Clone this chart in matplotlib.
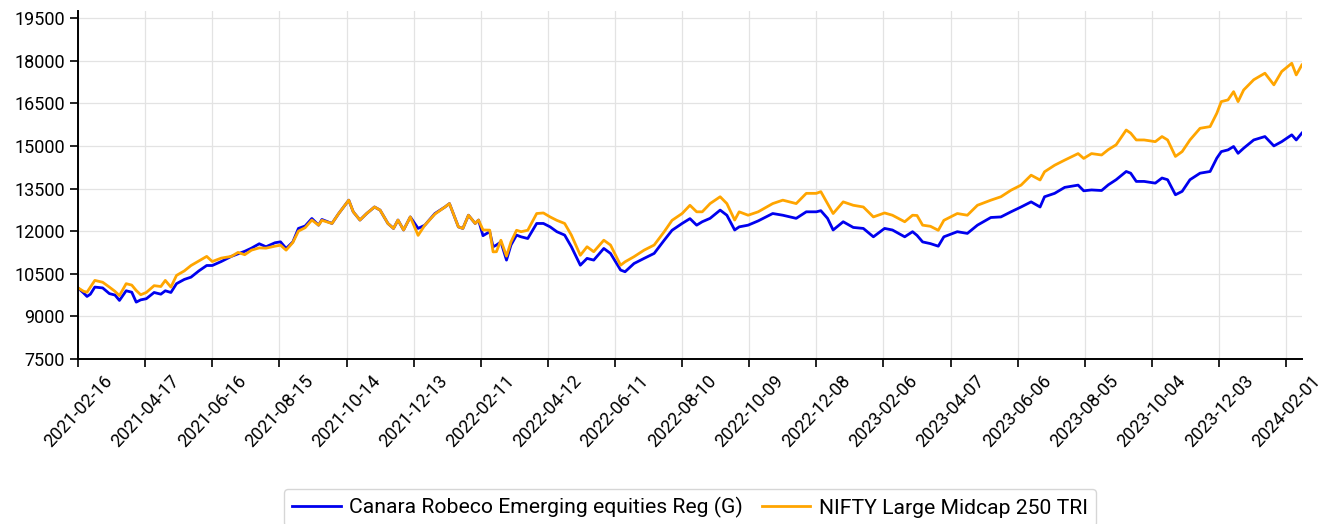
import pandas as pd
import matplotlib
matplotlib.use("Agg")
import matplotlib.pyplot as plt
import matplotlib.dates as mdates

plt.rcParams['font.family'] = ['Roboto', 'DejaVu Sans']

# Données (jours depuis le 2021-02-16)
start_date = "2021-02-16"
day_offsets = [
    0, 5, 8, 11, 15, 22, 28, 33, 37, 43, 48, 52, 56, 61, 68, 74, 78, 83, 88, 95,
    101, 108, 115, 120, 128, 137, 143, 149, 155, 162, 168, 176, 181, 186, 192, 197,
    203, 209, 215, 218, 227, 233, 242, 246, 252, 258, 265, 270, 277, 282, 286, 291,
    297, 304, 310, 319, 328, 332, 340, 344, 349, 355, 358, 362, 368, 371, 374, 378,
    383, 387, 392, 396, 402, 410, 416, 422, 428, 435, 441, 449, 455, 461, 470, 476,
    485, 489, 497, 506, 515, 524, 531, 540, 547, 553, 558, 565, 574, 580, 587, 591,
    599, 608, 621, 630, 642, 651, 660, 664, 670, 675, 684, 693, 702, 711, 721, 728,
    739, 746, 750, 755, 762, 769, 774, 786, 795, 804, 816, 825, 834, 843, 852, 860,
    864, 873, 882, 894, 899, 906, 915, 921, 928, 937, 941, 946, 953, 963, 969, 974,
    981, 987, 994, 1003, 1012, 1018, 1022, 1028, 1033, 1037, 1042, 1051, 1061, 1069,
    1076, 1085, 1089, 1094,
]

fund_values = [
    10000, 9820, 9700, 9780, 10030, 10000, 9800, 9750, 9560, 9900, 9850, 9500, 9580, 9620, 9840, 9780, 9900, 9840, 10150, 10300,
    10380, 10600, 10790, 10790, 10930, 11110, 11200, 11290, 11400, 11555, 11450, 11590, 11623, 11390, 11620, 12095,
    12180, 12445, 12210, 12410, 12270, 12620, 13090, 12680, 12390, 12620, 12850, 12740, 12270, 12095, 12390, 12040,
    12500, 12095, 12210, 12620, 12850, 12970, 12150, 12095, 12560, 12270, 12390, 11840, 11980, 11450, 11510, 11620,
    10980, 11510, 11860, 11800, 11740, 12270, 12270, 12150, 11980, 11860, 11450, 10800, 11040, 10980, 11390, 11215,
    10630, 10570, 10860, 11040, 11215, 11680, 12030, 12270, 12440, 12210, 12330, 12450, 12740, 12560, 12040, 12150,
    12210, 12360, 12620, 12560, 12450, 12680, 12680, 12720, 12450, 12040, 12330, 12130, 12095, 11800, 12095, 12040,
    11800, 11980, 11850, 11620, 11560, 11470, 11800, 11980, 11920, 12210, 12480, 12500, 12680, 12850, 13030, 12850,
    13210, 13330, 13540, 13620, 13420, 13450, 13430, 13630, 13810, 14100, 14040, 13750, 13750, 13690, 13870, 13810,
    13280, 13400, 13810, 14040, 14100, 14570, 14800, 14860, 14980, 14740, 14920, 15210, 15330, 15000,
    15150, 15390, 15210, 15450,
]

index_values = [
    10000, 9880, 9850, 10030, 10265, 10200, 10030, 9880, 9730, 10150, 10100, 9910, 9760, 9840, 10080, 10050, 10265, 10030, 10440, 10600,
    10790, 10950, 11110, 10930, 11050, 11110, 11250, 11170, 11330, 11410, 11400, 11470, 11505, 11330, 11600, 12000,
    12120, 12390, 12210, 12380, 12270, 12620, 13090, 12680, 12390, 12620, 12850, 12740, 12270, 12095, 12390, 12040,
    12500, 11850, 12210, 12600, 12850, 12970, 12150, 12095, 12560, 12270, 12390, 12040, 12035, 11270, 11275, 11680,
    11120, 11620, 12030, 11980, 12030, 12620, 12640, 12500, 12380, 12270, 11860, 11150, 11450, 11275, 11680, 11510,
    10800, 10920, 11100, 11330, 11510, 11980, 12380, 12620, 12910, 12680, 12680, 12970, 13210, 12970, 12390, 12680,
    12560, 12680, 12970, 13090, 12970, 13330, 13330, 13390, 12970, 12620, 13030, 12910, 12850, 12500, 12640, 12560,
    12330, 12560, 12550, 12210, 12170, 12030, 12380, 12620, 12560, 12910, 13090, 13210, 13440, 13620, 13970, 13800,
    14090, 14320, 14500, 14730, 14560, 14730, 14680, 14870, 15040, 15560, 15450, 15210, 15210, 15150, 15330, 15210,
    14630, 14800, 15210, 15620, 15680, 16150, 16560, 16620, 16910, 16560, 16970, 17330, 17560, 17150,
    17620, 17910, 17500, 17850,
]

fund_name = "Canara Robeco Emerging equities Reg (G)"
index_name = "NIFTY Large Midcap 250 TRI"
y_ticks = [7500, 9000, 10500, 12000, 13500, 15000, 16500, 18000, 19500]

dates = pd.Timestamp(start_date) + pd.to_timedelta(day_offsets, unit="D")
x_ticks = pd.date_range(start_date, periods=19, freq="60D")

fig = plt.figure(figsize=(13.23, 5.24), dpi=100)
ax = fig.add_axes([0.059, 0.315, 0.925, 0.664])

ax.plot(dates, fund_values, color="#0000ee", lw=2.0, label=fund_name)
ax.plot(dates, index_values, color="#ffa500", lw=2.0, label=index_name)

ax.set_xlim(dates[0], dates[-1])
ax.set_ylim(7500, 19750)
ax.set_yticks(y_ticks)
ax.set_xticks(x_ticks)
ax.xaxis.set_major_formatter(mdates.DateFormatter("%Y-%m-%d"))
plt.setp(ax.get_xticklabels(), rotation=47, ha="center")

ax.grid(True, color="#e3e3e3", lw=0.9)
ax.set_axisbelow(True)
for s in ["top", "right"]:
    ax.spines[s].set_visible(False)
for s in ["left", "bottom"]:
    ax.spines[s].set_linewidth(1.4)
ax.tick_params(labelsize=13, length=6, width=1.2)

ax.legend(loc="upper center", bbox_to_anchor=(0.5, -0.373), borderaxespad=0,
          ncol=2, fontsize=15.2, frameon=True, edgecolor="#cccccc", fancybox=True,
          handlelength=2.3, handletextpad=0.4, columnspacing=0.9)

plt.savefig("out.png", dpi=100)
